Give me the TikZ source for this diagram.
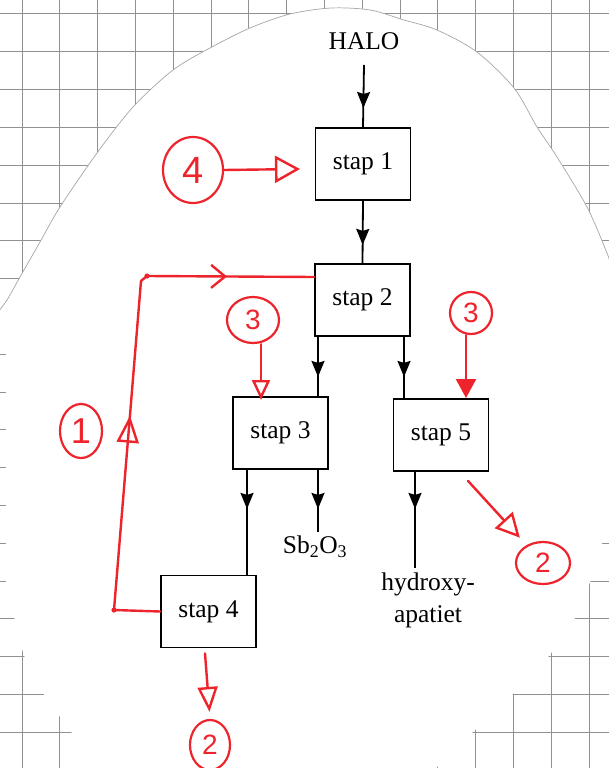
\documentclass[tikz,border=0pt]{standalone}
\usepackage{fontspec}
\setmainfont{Liberation Serif}
\newfontfamily\handfont{Liberation Sans}
\usetikzlibrary{arrows.meta,decorations.markings,shapes.geometric,calc}
\definecolor{pen}{RGB}{238,36,44}
\definecolor{gridc}{RGB}{145,145,145}
\begin{document}
\begin{tikzpicture}[x=1pt,y=-1pt,
  box/.style={draw, line width=1.8pt, minimum width=95pt, minimum height=72pt, inner sep=0pt, font=\fontsize{25.5}{30}\selectfont},
  lbl/.style={inner sep=0pt, font=\fontsize{25.5}{32}\selectfont},
  blk/.style={line width=1.8pt},
  midarr/.style={postaction={decorate}, decoration={markings, mark=at position #1 with {\arrow{Stealth[length=16pt,width=13pt,inset=2pt]}}}},
  rl/.style={draw=pen, line width=2.4pt, line cap=round, line join=round},
  num/.style={ellipse, draw=pen, line width=2.2pt, text=pen, inner sep=0pt, font=\handfont\fontsize{28}{28}\selectfont},
  gridline/.style={draw=gridc, line width=1pt}
]
\useasboundingbox (0,0) rectangle (609,768);
% squared paper behind the sheet
\foreach \i in {0,...,16} {\draw[gridline] ({22+37.8*\i},0) -- ({22+37.8*\i},768);}
\foreach \j in {0,...,20} {\draw[gridline] (0,{14+37.8*\j}) -- (609,{14+37.8*\j});}
% the sheet
\fill[white] plot[smooth] coordinates {(-2,312) (7,300) (20,277) (40,242) (60,207) (97,153) (133,107) (173,70) (210,48) (250,28) (290,14) (331,8) (370,10) (404,20) (437,30) (477,52) (514,88) (537,127) (557,157) (587,207) (607,253) (614,275)}
  -- (614,500)
  -- plot[smooth] coordinates {(614,500) (602,543) (590,582) (575,618) (548,657) (512,695) (473,732) (436,768)}
  -- (436,772) -- (96,772)
  -- plot[smooth] coordinates {(96,768) (72,733) (45,696) (25,658) (15,620) (6,590)}
  -- (6,330) -- cycle;
\draw[gray!70, line width=0.7pt] plot[smooth] coordinates {(-2,312) (7,300) (20,277) (40,242) (60,207) (97,153) (133,107) (173,70) (210,48) (250,28) (290,14) (331,8) (370,10) (404,20) (437,30) (477,52) (514,88) (537,127) (557,157) (587,207) (607,253) (614,275)};

% nodes
\node[lbl] (halo) at (364,41) {HALO};
\node[box] (s1) at (363,164) {stap 1};
\node[box] (s2) at (362.5,300) {stap 2};
\node[box] (s3) at (280.5,433) {stap 3};
\node[box] (s5) at (441,435) {stap 5};
\node[box] (s4) at (208.5,611.5) {stap 4};
\node[lbl] (sb) at (315,547) {Sb\textsubscript{2}O\textsubscript{3}};
\node[lbl, align=center] (hy) at (428,600) {hydroxy-\\apatiet};

% connector end points
\coordinate (e23) at (318,397);
\coordinate (e25) at (404,399);
\coordinate (e34) at (247,576);
\coordinate (esb) at (318,532);
\coordinate (ehy) at (415,568);
\coordinate (eh) at (363,65);

% black arrows
\draw[blk, midarr=43pt] (halo.south |- eh) -- (s1.north);
\draw[blk, midarr=44pt] (s1.south) -- (s2.north);
\draw[blk, midarr=40pt] (s2.south -| e23) -- (e23);
\draw[blk, midarr=40pt] (s2.south -| e25) -- (e25);
\draw[blk, midarr=39pt] (s3.south -| e34) -- (e34);
\draw[blk, midarr=39pt] (s3.south -| esb) -- (esb);
\draw[blk, midarr=37pt] (s5.south -| ehy) -- (ehy);

% red annotations
\node[num, minimum width=60pt, minimum height=66pt, font=\handfont\fontsize{38}{38}\selectfont] (c4) at (193,170) {4};
\node[num, minimum width=42pt, minimum height=54pt, font=\handfont\fontsize{36}{36}\selectfont] (c1) at (81,431) {1};
\node[num, minimum width=52pt, minimum height=46pt] (c3a) at (253,320) {3};
\node[num, minimum width=42pt, minimum height=42pt] (c3b) at (471,313) {3};
\node[num, minimum width=54pt, minimum height=42pt] (c2a) at (543,563) {2};
\node[num, minimum width=40pt, minimum height=50pt] (c2b) at (210,745) {2};

\coordinate (a4) at (300,169);
\draw[rl, -{Triangle[open,length=25pt,width=27pt]}] (c4.east) -- (a4);

\coordinate (t3) at (261,400);
\draw[rl, -{Triangle[open,length=20pt,width=18pt]}] (c3a.south -| t3) -- (t3);
\coordinate (t5) at (466,398);
\draw[rl, -{Triangle[length=19pt,width=20pt]}] (c3b.south -| t5) -- (t5);

\draw[rl, -{Triangle[open,length=24pt,width=24pt]}, shorten >=10pt] ([xshift=27pt,yshift=-9pt]s5.south) -- (c2a);
\draw[rl, -{Triangle[open,length=25pt,width=20pt]}, shorten >=7pt] ([xshift=-3.5pt,yshift=-5pt]s4.south) -- (c2b.north);

% recycle loop from stap 4 back to stap 2
\coordinate (lc1) at (114,610);
\coordinate (lc2) at (141,281);
\coordinate (lc3) at (147,276);
\draw[rl] (s4.west) -- (lc1);
\draw[rl, postaction={decorate}, decoration={markings, mark=at position 195pt with {\arrow[pen]{Triangle[open,length=27pt,width=22pt]}}}] (lc1) -- (lc2);
\draw[rl] (lc2) -- (lc3);
\draw[rl, postaction={decorate}, decoration={markings, mark=at position 80pt with {\arrow[pen]{Straight Barb[length=14pt,width=23pt]}}}] (lc3) -- ([yshift=23pt]s2.west);
\fill[pen] (lc1) circle (2.6pt);
\fill[pen] (lc3) circle (2.6pt);
\end{tikzpicture}
\end{document}
